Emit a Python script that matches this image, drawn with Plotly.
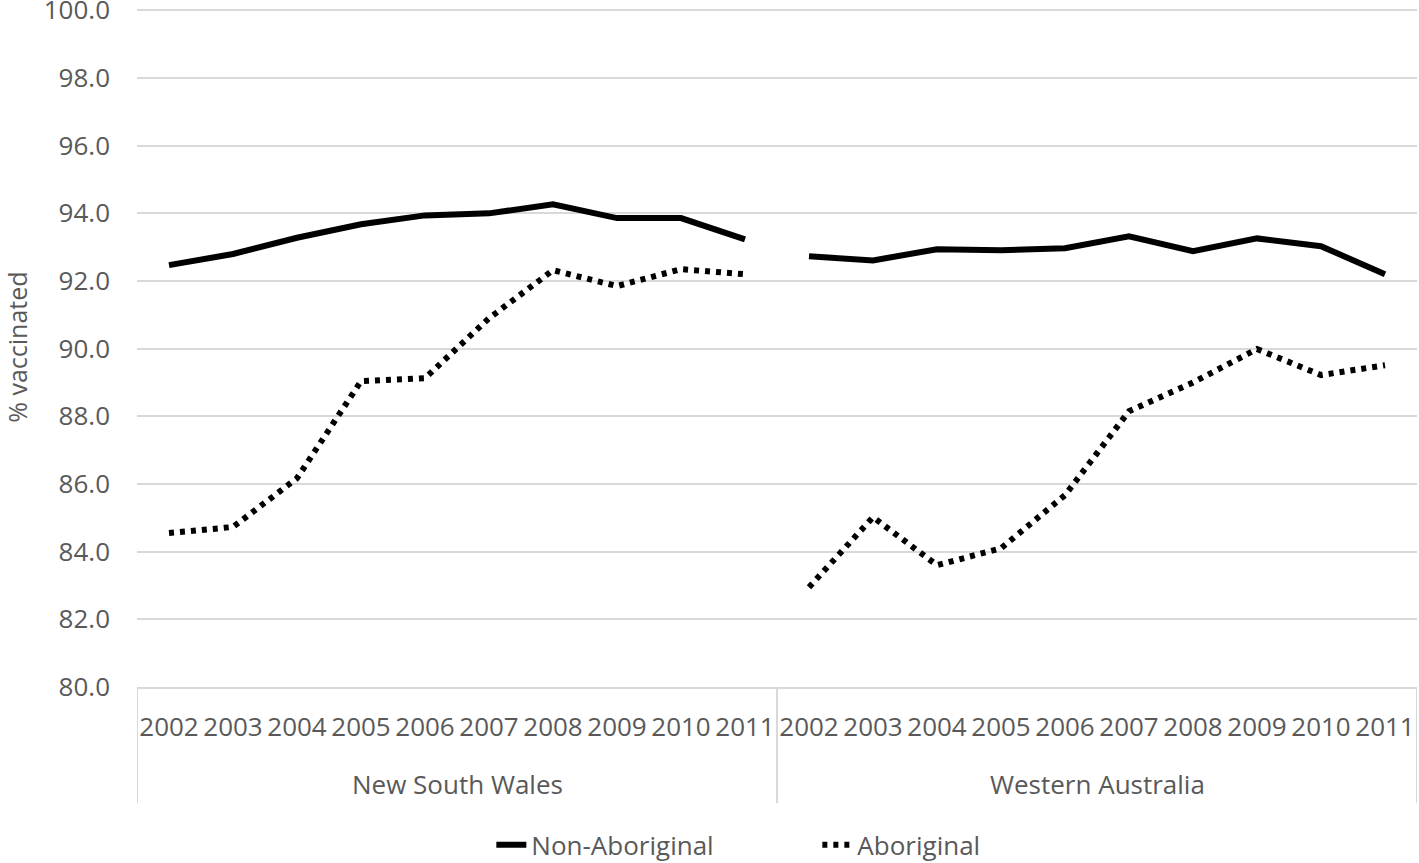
import plotly.graph_objects as go

years = ["2002", "2003", "2004", "2005", "2006", "2007", "2008", "2009", "2010", "2011"]
states = ["New South Wales", "Western Australia"]

nsw_non = [92.47, 92.80, 93.28, 93.68, 93.94, 94.00, 94.27, 93.86, 93.86, 93.23]
nsw_abo = [84.55, 84.73, 86.17, 89.04, 89.13, 90.90, 92.32, 91.85, 92.35, 92.20]
wa_non = [92.73, 92.61, 92.94, 92.91, 92.97, 93.32, 92.88, 93.26, 93.03, 92.20]
wa_abo = [82.95, 85.02, 83.60, 84.10, 85.67, 88.15, 89.00, 89.99, 89.22, 89.51]

yticks = [80, 82, 84, 86, 88, 90, 92, 94, 96, 98, 100]

FONT = "Open Sans"
GREY = "#595959"
GRID = "#d9d9d9"
FS = 26

series = {
    "Non-Aboriginal": [nsw_non, wa_non],
    "Aboriginal": [nsw_abo, wa_abo],
}
dash = {"Non-Aboriginal": "solid", "Aboriginal": "5px,6px"}

n = len(years)
fig = go.Figure()
for name, groups in series.items():
    for gi, vals in enumerate(groups):
        xs = [gi * n + i for i in range(n)]
        fig.add_trace(go.Scatter(
            x=xs, y=vals, mode="lines", name=name,
            legendgroup=name, showlegend=(gi == 0),
            line=dict(color="black", width=6, dash=dash[name]),
        ))

tickvals = list(range(n * len(states)))
ticktext = years * len(states)

annotations = []
for gi, st in enumerate(states):
    annotations.append(dict(
        x=gi * n + (n - 1) / 2, y=-0.143, xref="x", yref="paper",
        text=st, showarrow=False, xanchor="center", yanchor="middle",
        font=dict(family=FONT, size=FS, color=GREY),
    ))
annotations.append(dict(
    x=-0.094, y=0.5, xref="paper", yref="paper", text="% vaccinated",
    textangle=-90, showarrow=False, xanchor="center", yanchor="middle",
    font=dict(family=FONT, size=25, color=GREY),
))

shapes = []
for k in range(len(states) + 1):
    shapes.append(dict(
        type="line", xref="x", yref="paper",
        x0=k * n - 0.5, x1=k * n - 0.5, y0=0, y1=-0.171,
        line=dict(color=GRID, width=2),
    ))

fig.update_layout(
    width=1419, height=863,
    margin=dict(l=137, r=2, t=7, b=176, autoexpand=False),
    paper_bgcolor="white", plot_bgcolor="white",
    font=dict(family=FONT, size=FS, color=GREY),
    xaxis=dict(
        range=[-0.5, n * len(states) - 0.5],
        tickvals=tickvals, ticktext=ticktext,
        showgrid=False, zeroline=False, ticks="",
        showline=True, linecolor=GRID, linewidth=2,
        tickfont=dict(family=FONT, size=FS, color=GREY),
        ticklabelstandoff=16, automargin=False,
    ),
    yaxis=dict(
        range=[80, 100.1], tickvals=yticks,
        ticktext=[f"{v:.1f}" for v in yticks],
        showgrid=True, gridcolor=GRID, gridwidth=2,
        zeroline=False, ticks="", showline=False,
        tickfont=dict(family=FONT, size=FS, color=GREY),
        ticklabelstandoff=26, automargin=False,
        ticklabeloverflow="allow",
    ),
    legend=dict(
        orientation="h", xref="container", yref="container",
        x=0.576, y=0.021, xanchor="center", yanchor="middle",
        font=dict(family=FONT, size=FS, color=GREY),
        entrywidth=281, bgcolor="rgba(0,0,0,0)",
    ),
    annotations=annotations,
    shapes=shapes,
)

fig.write_html(
    "out.html",
    config={"displayModeBar": False},
    post_script="document.body.style.margin='0';document.body.style.overflow='hidden';",
)
